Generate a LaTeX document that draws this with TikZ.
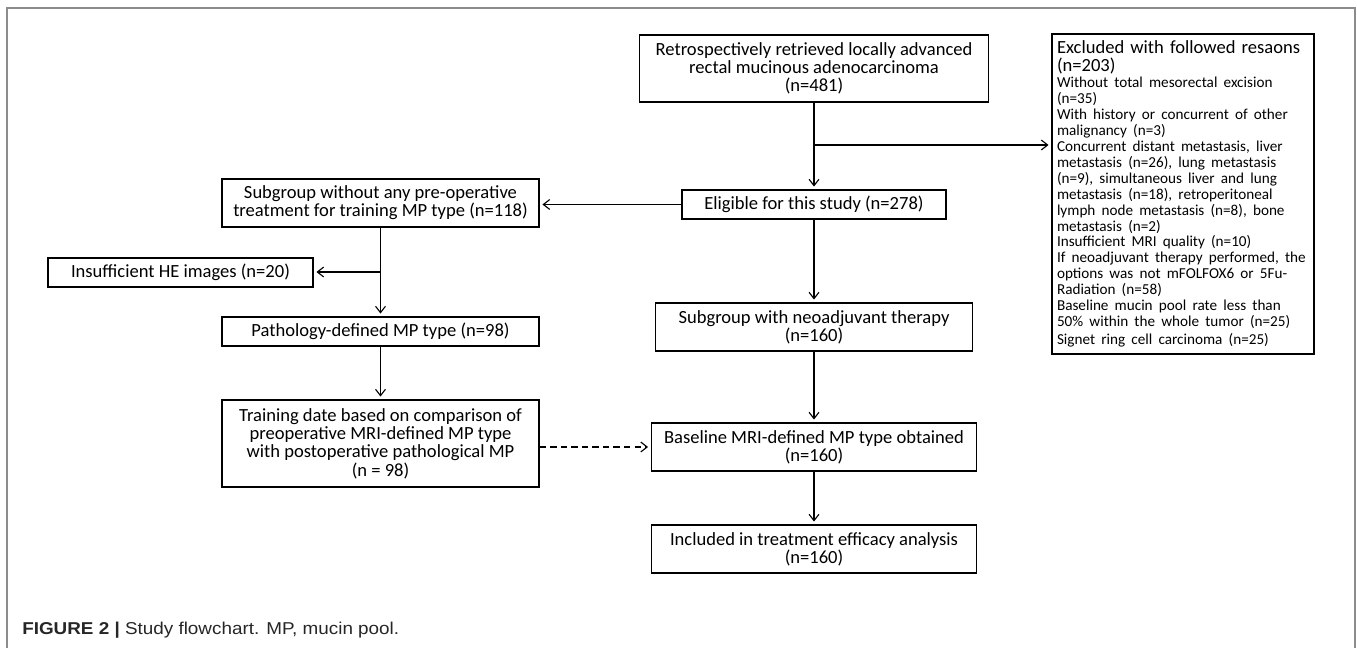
\documentclass[tikz,border=0pt]{standalone}
\usepackage{fontspec}
\setmainfont{Carlito}
\newfontfamily\captionfont[FakeStretch=1.1]{Liberation Sans}
\usetikzlibrary{arrows.meta}
\definecolor{framegray}{RGB}{140,140,140}
\newdimen\pxu \pxu=0.025cm

\begin{document}
\begin{tikzpicture}[x=0.025cm, y=-0.025cm,
    box/.style={draw, line width=0.9pt, inner sep=0pt, align=center,
      font=\fontsize{13.2}{13}\selectfont},
    flow/.style={line width=0.8pt, -{Straight Barb[length=4.5pt,width=7pt]}, shorten >=2pt}]
		\useasboundingbox (0,0) rectangle (1357,648);
		\draw [framegray, line width=1.4pt] (7,648) -- (7,8) -- (1355,8) -- (1355,648);
		%%%%%%%%%%%%%
		\node (retr) [box, minimum width=349\pxu, minimum height=67\pxu] at (814, 68.5)
			{Retrospectively retrieved locally advanced\\rectal mucinous\ adenocarcinoma\\(n=481)};
		\node (excl) [box, align=left, text width=252\pxu, inner xsep=5\pxu, minimum height=320\pxu] at (1183, 194)
			{Excluded with followed resaons\\(n=203)\par
			\fontsize{10.8}{11.34}\selectfont
			Without total mesorectal excision\\(n=35)\\
			With history or concurrent of other\\malignancy (n=3)\\
			Concurrent distant metastasis, liver\\metastasis (n=26), lung metastasis\\
			(n=9), simultaneous liver and lung\\metastasis (n=18), retroperitoneal\\
			lymph node metastasis (n=8), bone\\metastasis (n=2)\\
			Insufficient MRI quality (n=10)\\
			If neoadjuvant therapy performed, the\\options was not mFOLFOX6 or 5Fu-\\Radiation (n=58)\\
			Baseline mucin pool rate less than\\50\% within the whole tumor (n=25)\\
			Signet ring cell carcinoma (n=25)};
		\node (elig) [box, minimum width=264\pxu, minimum height=29\pxu] at (814, 204.5)
			{Eligible for this study (n=278)};
		\node (nopre) [box, minimum width=317\pxu, minimum height=48\pxu] at (380.5, 203)
			{Subgroup without any pre-operative\\treatment for training MP type (n=118)};
		\node (insuf) [box, minimum width=265\pxu, minimum height=29\pxu] at (180.5, 272.5)
			{Insufficient HE images (n=20)};
		\node (patho) [box, minimum width=317\pxu, minimum height=29\pxu] at (380.5, 331.5)
			{Pathology-defined MP type (n=98)};
		\node (train) [box, minimum width=317\pxu, minimum height=87\pxu] at (380.5, 443.5)
			{Training date based on comparison of\\preoperative MRI-defined MP type\\with postoperative pathological MP\\(n = 98)};
		\node (neoadj) [box, minimum width=317\pxu, minimum height=48\pxu] at (814, 327)
			{Subgroup with neoadjuvant therapy\\(n=160)};
		\node (base) [box, minimum width=325\pxu, minimum height=48\pxu] at (814, 447)
			{Baseline MRI-defined MP type obtained\\(n=160)};
		\node (incl) [box, minimum width=325\pxu, minimum height=48\pxu] at (814, 549)
			{Included in treatment efficacy analysis\\(n=160)};
		\node (caption) [anchor=base west, inner sep=0pt, text=black!85,
			font=\captionfont\fontsize{12.2}{14}\selectfont] at (22, 634)
			{\textbf{FIGURE 2 |} Study flowchart. MP, mucin pool.};
		%%%%%%%%%%%%%
		\coordinate (split1) at (814, 145);
		\coordinate (split2) at (380.5, 272);
		\draw [flow] (retr) to (elig);
		\draw [flow] (split1) to (split1 -| excl.west);
		\draw [flow] (elig.west) to (elig.west -| nopre.east);
		\draw [flow] (elig) to (neoadj);
		\draw [flow] (nopre) to (patho);
		\draw [flow] (split2) to (split2 -| insuf.east);
		\draw [flow] (patho) to (train);
		\draw [flow, dash pattern=on 4.5pt off 3pt] (train.east |- base.west) to (base.west);
		\draw [flow] (neoadj) to (base);
		\draw [flow] (base) to (incl);
\end{tikzpicture}
\end{document}
